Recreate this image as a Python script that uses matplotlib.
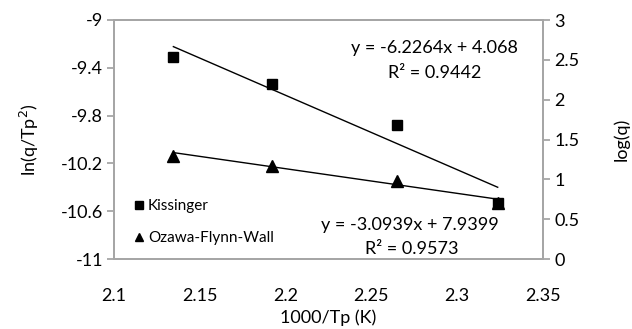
import matplotlib.pyplot as plt
import numpy as np
from matplotlib.lines import Line2D

plt.rcParams['font.family'] = ['Lato', 'DejaVu Sans']

# 1000/Tp values (same for both methods)
x_vals = [2.1346, 2.1922, 2.2647, 2.3236]
# Kissinger: ln(q/Tp^2), left axis
kiss_y = [-9.307, -9.538, -9.879, -10.534]
# Ozawa-Flynn-Wall: log(q), right axis
ofw_y = [1.293, 1.171, 0.983, 0.70]

# trendline coefficients as printed on the chart
kiss_fit = (-6.2264, 4.068)
ofw_fit = (-3.0939, 7.9399)
kiss_eq = ["y = -6.2264x + 4.068", "R\u00b2 = 0.9442"]
ofw_eq = ["y = -3.0939x + 7.9399", "R\u00b2 = 0.9573"]

xticks = [2.1, 2.15, 2.2, 2.25, 2.3, 2.35]
left_ticks = [-9, -9.4, -9.8, -10.2, -10.6, -11]
right_ticks = [0, 0.5, 1, 1.5, 2, 2.5, 3]

grey = "#a6a6a6"
fs = 13

fig = plt.figure(figsize=(6.32, 3.29), dpi=100)
ax = fig.add_axes([114 / 632, 1 - 259 / 329, 429 / 632, 239 / 329])
ax2 = ax.twinx()

xs = np.array([x_vals[0], x_vals[-1]])
ax.plot(xs, kiss_fit[0] * xs + kiss_fit[1], color="black", lw=1)
ax.plot(x_vals, kiss_y, "s", color="black", ms=7.5, ls="none")
ax2.plot(xs, ofw_fit[0] * xs + ofw_fit[1], color="black", lw=1)
ax2.plot(x_vals, ofw_y, "^", color="black", ms=9, ls="none")

ax.set_xlim(2.1, 2.35)
ax.set_ylim(-11, -9)
ax2.set_ylim(0, 3)
ax.set_xticks(xticks)
ax.set_xticklabels([f"{t:g}" for t in xticks])
ax.set_yticks(left_ticks)
ax.set_yticklabels([f"{t:g}" for t in left_ticks])
ax2.set_yticks(right_ticks)
ax2.set_yticklabels([f"{t:g}" for t in right_ticks])

for a in (ax, ax2):
    for s in a.spines.values():
        s.set_color(grey)
        s.set_linewidth(1.3)
ax.tick_params(axis="x", length=0, pad=21, labelsize=fs)
ax.tick_params(axis="y", direction="out", length=5, width=1.3, color=grey, labelsize=fs, pad=3)
ax2.tick_params(axis="y", direction="out", length=5, width=1.3, color=grey, labelsize=fs, pad=3)

ax.set_xlabel("1000/Tp (K)", fontsize=fs, labelpad=4)
ax.set_ylabel("ln(q/Tp$^2$)", fontsize=fs, labelpad=14)
ax2.set_ylabel("log(q)", fontsize=fs, rotation=90, labelpad=24)

ax.text(2.287, -9.234, kiss_eq[0], ha="center", va="center", fontsize=fs)
ax.text(2.287, -9.444, kiss_eq[1], ha="center", va="center", fontsize=fs)
ax.text(2.2725, -10.715, ofw_eq[0], ha="center", va="center", fontsize=fs)
ax.text(2.2737, -10.916, ofw_eq[1], ha="center", va="center", fontsize=fs)

handles = [Line2D([], [], marker="s", color="black", ls="none", ms=5.5),
           Line2D([], [], marker="^", color="black", ls="none", ms=5.5)]
ax.legend(handles, ["Kissinger", "Ozawa-Flynn-Wall"], loc="lower left",
          bbox_to_anchor=(0.015, 0.0), frameon=False, fontsize=11,
          handlelength=0.6, handletextpad=0.3, labelspacing=1.2)

fig.savefig("out.png", dpi=100)
